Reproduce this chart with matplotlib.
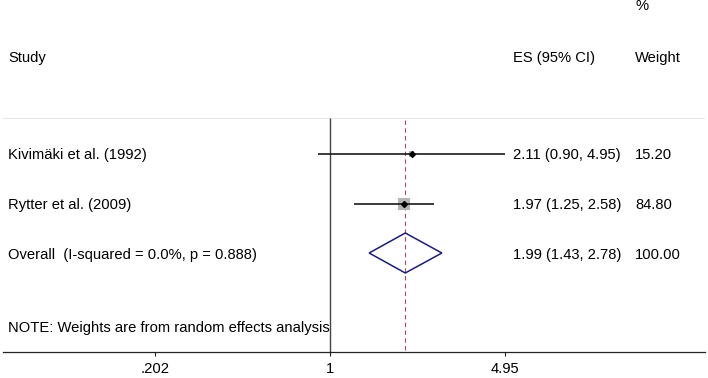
import numpy as np
import matplotlib
matplotlib.use("Agg")
from matplotlib import pyplot as plt
from matplotlib import transforms
from matplotlib.patches import Polygon

# data
studies = ["Kivimäki et al. (1992)", "Rytter et al. (2009)"]
es = [2.11, 1.97]
ci_low = [0.90, 1.25]
ci_high = [4.95, 2.58]
weights = [15.20, 84.80]

overall_es = 1.99
overall_low = 1.43
overall_high = 2.78
overall_weight = 100.00
i_squared = 0.0
p_het = 0.888

tick_values = [0.202, 1, 4.95]
tick_labels = [".202", "1", "4.95"]

W, H = 708, 378
plt.rcParams['font.family'] = ['Liberation Sans', 'DejaVu Sans']
fs = 10.6

fig = plt.figure(figsize=(W / 100, H / 100), dpi=100)
# axes spans the whole width, bottom edge is the x axis line
ax = fig.add_axes([3 / W, 26 / H, 702 / W, 352 / H])
ax.set_xscale("log")
# 1 sits at pixel 330, 109.4 px per ln unit
ax.set_xlim(np.exp((3 - 330) / 109.4), np.exp((705 - 330) / 109.4))
ax.set_ylim(352, 0)

for s in ["top", "left", "right"]:
    ax.spines[s].set_visible(False)
ax.spines["bottom"].set_color("#222222")
ax.spines["bottom"].set_linewidth(0.9)
ax.set_yticks([])
ax.set_xticks(tick_values)
ax.set_xticklabels(tick_labels, fontsize=fs)
ax.xaxis.set_minor_locator(matplotlib.ticker.NullLocator())
ax.tick_params(axis="x", length=3, width=0.8, pad=4, color="#222222")

tr = transforms.blended_transform_factory(ax.transAxes, ax.transData)
def colx(px):
    return (px - 3) / 702

# header
ax.text(colx(8), 58, "Study", transform=tr, fontsize=fs, va="center")
ax.text(colx(513), 58, "ES (95% CI)", transform=tr, fontsize=fs, va="center")
ax.text(colx(635), 58, "Weight", transform=tr, fontsize=fs, va="center")
ax.text(colx(635), 6, "%", transform=tr, fontsize=fs, va="center")

# separator and reference lines
ax.axhline(118, color="#e4e4e4", lw=0.6)
ax.vlines(1, 118, 352, color="#444444", lw=1.0)
ax.vlines(overall_es, 120, 352, color="#a84a5c", lw=0.8, linestyles=(0, (4, 3)))

rows = [155, 205]
for i in range(len(studies)):
    y = rows[i]
    ax.hlines(y - 1, ci_low[i], ci_high[i], color="#1a1a1a", lw=1.2, zorder=3)
    ax.scatter(es[i], y - 1, marker="s", s=0.88 * weights[i], color="#b4b4b4",
               edgecolor="none", zorder=2)
    ax.plot(es[i], y - 1, marker="D", ms=3, color="black", zorder=4)
    ax.text(colx(8), y, studies[i], transform=tr, fontsize=fs, va="center")
    ax.text(colx(513), y, "{:.2f} ({:.2f}, {:.2f})".format(es[i], ci_low[i], ci_high[i]),
            transform=tr, fontsize=fs, va="center")
    ax.text(colx(635), y, "{:.2f}".format(weights[i]), transform=tr, fontsize=fs, va="center")

# overall diamond
yo = 253
diamond = Polygon([(overall_low, yo), (overall_es, yo - 20), (overall_high, yo),
                   (overall_es, yo + 20)], closed=True, fill=False,
                  edgecolor="#1c1c78", lw=1.1, zorder=3)
ax.add_patch(diamond)
ax.text(colx(8), 255, "Overall  (I-squared = {:.1f}%, p = {:.3f})".format(i_squared, p_het),
        transform=tr, fontsize=fs, va="center")
ax.text(colx(513), 255, "{:.2f} ({:.2f}, {:.2f})".format(overall_es, overall_low, overall_high),
        transform=tr, fontsize=fs, va="center")
ax.text(colx(635), 255, "{:.2f}".format(overall_weight), transform=tr, fontsize=fs, va="center")

ax.text(colx(8), 328, "NOTE: Weights are from random effects analysis", transform=tr,
        fontsize=fs, va="center")

fig.savefig("out.png", dpi=100)
